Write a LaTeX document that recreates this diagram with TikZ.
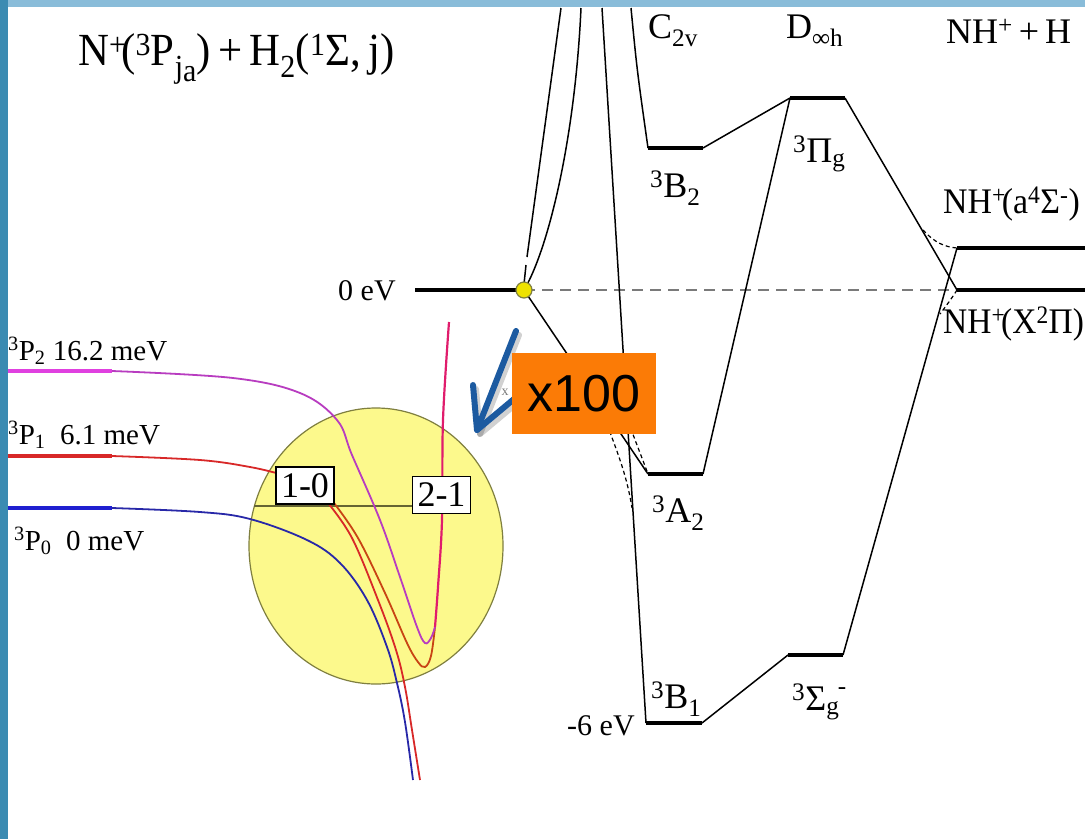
\documentclass[tikz,border=0pt]{standalone}
\usepackage{fontspec}
\setmainfont{Liberation Serif}
\newfontfamily\sansf{Liberation Sans}
\usetikzlibrary{arrows.meta}
\definecolor{stripL}{HTML}{3B8BB2}
\definecolor{stripT}{HTML}{89BCD9}
\definecolor{magc}{HTML}{B83CC0}
\definecolor{magthick}{HTML}{E040E0}
\definecolor{crimc}{HTML}{E01C6C}
\definecolor{redc}{HTML}{D82828}
\definecolor{orredc}{HTML}{C84414}
\definecolor{bluec}{HTML}{2828A8}
\definecolor{bluethick}{HTML}{2020D0}
\definecolor{yelc}{HTML}{FCF98C}
\definecolor{olivec}{HTML}{7F7F3F}
\definecolor{orangec}{HTML}{FB7B06}
\definecolor{arrowc}{HTML}{1C5AA0}
\definecolor{dgray}{HTML}{7A7A7A}
\newcommand\hsup[1]{\textsuperscript{#1}\kern-0.12em}
\begin{document}
\begin{tikzpicture}[x=1pt,y=-1pt,
  lvl/.style={line width=4.2pt},
  ln/.style={line width=1.5pt},
  dsh/.style={line width=1.2pt, dash pattern=on 4pt off 3pt},
  lbl/.style={anchor=base west, inner sep=0pt, font=\fontsize{36}{40}\selectfont},
  plbl/.style={anchor=base west, inner sep=0pt, font=\fontsize{29}{32}\selectfont},
  tbox/.style={draw, fill=white, line width=1.5pt, inner sep=0pt, minimum width=58pt, minimum height=37pt, font=\fontsize{36}{36}\selectfont}]
% background and border strips
\path[use as bounding box] (0,0) rectangle (1085,839);
\fill[white] (0,0) rectangle (1085,839);
\fill[stripT] (0,0) rectangle (1085,7);
\fill[stripL] (0,0) rectangle (8,839);

% title
\node[anchor=base west, inner sep=0pt, font=\fontsize{46}{50}\selectfont] (title) at (78,65)
  {\scalebox{0.93}[1]{N\hsup{+}(\textsuperscript{3}P\textsubscript{j\raisebox{-0.25ex}{a}})\,+\,H\textsubscript{2}(\textsuperscript{1}Σ,\,j)}};

% ---------- right-hand correlation diagram ----------
\coordinate (zeroL) at (415,290);
\coordinate (dot) at (524,290);
\coordinate (b2l) at (648,148);  \coordinate (b2r) at (703,148);
\coordinate (pgl) at (790,98);   \coordinate (pgr) at (845,98);
\coordinate (a2l) at (648,474);  \coordinate (a2r) at (703,474);
\coordinate (b1l) at (646,723);  \coordinate (b1r) at (702,723);
\coordinate (sgl) at (788,655);  \coordinate (sgr) at (843,655);
\coordinate (a4l) at (957,248);  \coordinate (a4r) at (1085,248);
\coordinate (x2l) at (957,290);  \coordinate (x2r) at (1085,290);
\coordinate (t1) at (561,8); \coordinate (t2) at (581,8);
\coordinate (t3) at (602,8); \coordinate (t4) at (631,8);

% gray dashed 0 eV line
\draw[dgray, line width=2.5pt, dash pattern=on 11pt off 7pt] (dot) -- (x2l);

% thin connectors
\draw[ln] (t4) .. controls (637,70) .. (b2l);
\draw[ln] (b2r) -- (pgl);
\draw[ln] (pgr) -- (x2l);
\draw[ln] (a4l) -- (sgr);
\draw[ln] (sgl) -- (b1r);
\draw[ln] (t3) -- (b1l);
\draw[ln] (dot) -- (a2l);
\draw[ln] (a2r) -- (pgl);
\draw[ln] (t1) -- (527,257);
\draw[ln] (526,265) -- (524,284);
\draw[ln] (t2) .. controls (575,140) and (548,250) .. (dot);

% dashed adiabatic curves
\draw[dsh] (605,418) .. controls (614,445) and (626,470) .. (632,508);
\draw[dsh] (626,415) .. controls (634,438) and (641,455) .. (a2l);
\draw[dsh] (923,230) .. controls (935,243) and (945,247) .. (a4l);
\draw[dsh] (x2l) .. controls (952,298) and (946,306) .. (940,314);

% levels
\draw[lvl] (zeroL) -- (dot);
\draw[lvl] (b2l) -- (b2r);
\draw[lvl] (pgl) -- (pgr);
\draw[lvl] (a2l) -- (a2r);
\draw[lvl] (b1l) -- (b1r);
\draw[lvl] (sgl) -- (sgr);
\draw[lvl] (a4l) -- (a4r);
\draw[lvl] (x2l) -- (x2r);

% crossing dot
\fill[yellow!85!olive, draw=olivec, line width=1.2pt] (dot) circle (8);

% labels
\node[lbl] (c2v) at (648,38) {C\textsubscript{2v}};
\node[lbl] (dinf) at (786,38) {D\textsubscript{∞h}};
\node[lbl] (nhh) at (946,43) {NH\textsuperscript{+}\,+\,H};
\node[lbl] (lb2) at (650,197) {\textsuperscript{3}B\textsubscript{2}};
\node[lbl] (lpg) at (793,162) {\textsuperscript{3}Π\textsubscript{g}};
\node[lbl] (la4) at (943,213) {\scalebox{0.94}[1]{NH\hsup{+}(a\textsuperscript{4}Σ\textsuperscript{-})}};
\node[lbl] (lx2) at (943,333) {\scalebox{0.93}[1]{NH\hsup{+}(X\textsuperscript{2}Π)}};
\node[lbl] (la2) at (652,522) {\textsuperscript{3}A\textsubscript{2}};
\node[lbl] (lb1) at (651,708) {\textsuperscript{3}B\textsubscript{1}};
\node[lbl] (lsg) at (792,710) {\textsuperscript{3}Σ\textsubscript{g}\kern-0.04em\raisebox{0.4ex}{\textsuperscript{-}}};
\node[plbl, font=\fontsize{30}{32}\selectfont] (l0) at (338,300) {0 eV};
\node[plbl, font=\fontsize{30}{32}\selectfont] (l6) at (567,735) {-6 eV};

% ---------- left-hand potential curves ----------
\draw[fill=yelc, draw=olivec, line width=1.2pt] (376,546) ellipse [x radius=127, y radius=138];
\draw[olivec!80!black, line width=1.2pt] (254,506) -- (413,506);

% horizontal asymptotes
\draw[magthick, line width=4pt] (8,371) -- (112,371);
\draw[redc, line width=4pt] (8,456) -- (112,456);
\draw[bluethick, line width=4pt] (8,508) -- (112,508);

% blue 3P0
\draw[bluec, line width=1.8pt] plot[smooth, tension=0.6] coordinates
 {(112,508) (200,512) (250,519) (307,540) (340,563) (367,600) (387,647) (397,683) (405,722) (413,780)};
% red 3P1 to box
\draw[redc, line width=1.8pt] plot[smooth, tension=0.6] coordinates
 {(112,456) (200,460) (250,467) (280,474)};
% red lines out of 1-0 box
\draw[redc, line width=1.8pt] plot[smooth, tension=0.6] coordinates
 {(328,503) (352,538) (378,600) (396,650) (405,687) (412,730) (420,780)};
\draw[orredc, line width=1.8pt] plot[smooth, tension=0.6] coordinates
 {(334,503) (358,538) (385,593) (407,643) (418,662) (425,667) (431,656) (435,627)};
% magenta 3P2
\draw[magc, line width=1.8pt] plot[smooth, tension=0.6] coordinates
 {(112,371) (233,378) (300,393) (337,420) (352,455) (380,520) (400,577) (417,627) (425,643) (431,638) (435,627)};
% rising wall
\draw[crimc, line width=2.2pt] plot[smooth, tension=0.6] coordinates
 {(435,627) (438,587) (442,520) (443,420) (449,322)};

% level boxes
\node[tbox] (b10) at (305,485.5) {1-0};
\node[tbox] (b21) at (441.5,495) {2-1};

% blue arrow with shadow
\begin{scope}[line width=6pt, line cap=round, line join=round]
\draw[black, opacity=0.18] (519,335) -- (480,434);
\draw[black, opacity=0.18] (476,389) -- (480,434) -- (517,403);
\draw[arrowc] (516,331) coordinate (arA) -- (477,430) coordinate (arB);
\draw[arrowc] (473,385) -- (arB) -- (514,399);
\end{scope}
\node[text=dgray, font=\fontsize{14}{14}\selectfont, inner sep=0pt] (xs) at (505,392) {x};

% x100 box
\node[fill=orangec, minimum width=144pt, minimum height=81pt, inner sep=0pt,
  font=\sansf\fontsize{52}{56}\selectfont] (x100) at (584,393.5) {x100};

% left labels
\node[plbl] (p2) at (8,360) {\textsuperscript{3}P\textsubscript{2} 16.2 meV};
\node[plbl] (p1) at (8,444) {\textsuperscript{3}P\textsubscript{1}\ \ 6.1 meV};
\node[plbl] (p0) at (14,550) {\textsuperscript{3}P\textsubscript{0}\ \ 0 meV};
\end{tikzpicture}
\end{document}
